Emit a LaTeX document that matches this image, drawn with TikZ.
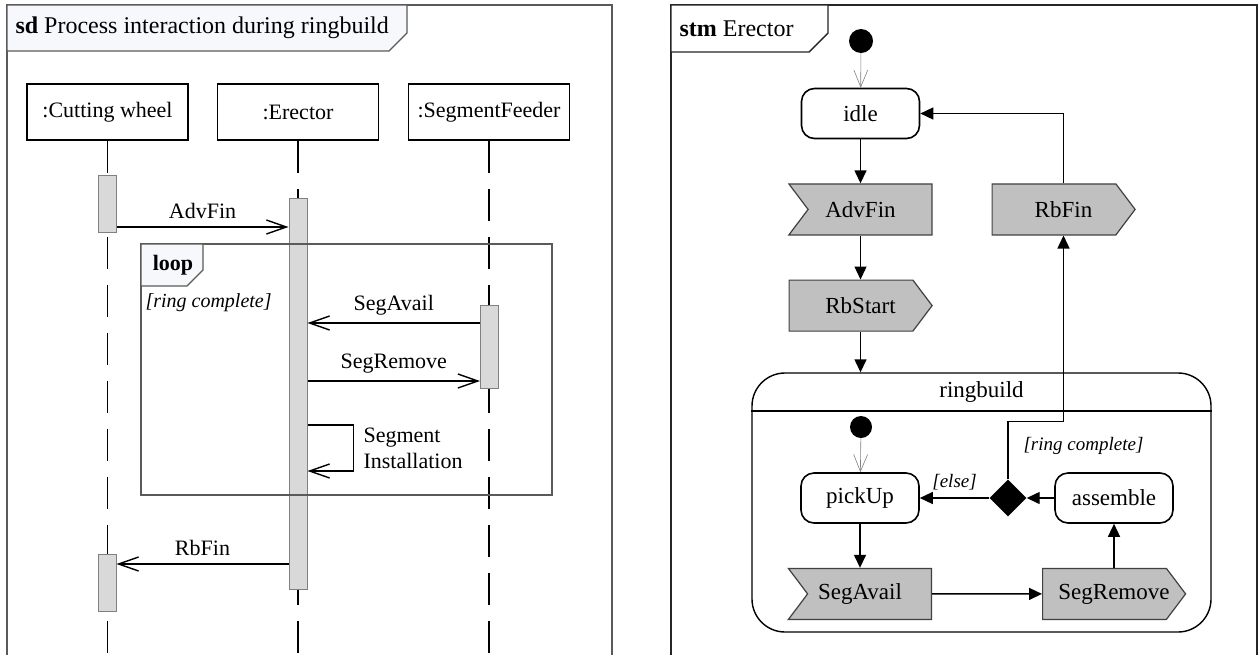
\documentclass[tikz,border=0pt]{standalone}
\usepackage{fontspec}
\setmainfont{Liberation Serif}
\usetikzlibrary{arrows.meta,positioning,shapes.geometric,shapes.symbols}
\definecolor{framegray}{HTML}{5A5A5A}
\definecolor{actgray}{HTML}{D9D9D9}
\definecolor{siggray}{HTML}{C0C0C0}
\definecolor{tabfill}{HTML}{F6F8FC}

\begin{document}
\begin{tikzpicture}[x=1pt, y=-1pt,
    node distance=44pt and 59pt,
    lifehead/.style={draw, line width=1.6pt, minimum width=161pt, minimum height=56pt, font=\fontsize{22}{26}\selectfont},
    lifeline/.style={line width=1.8pt, dash pattern=on 32pt off 16pt},
    actbar/.style={draw=gray, fill=actgray, line width=1pt, minimum width=18pt, inner sep=0pt},
    msg/.style={line width=1.4pt, -{Straight Barb[length=20pt,width=14pt,line width=1.4pt]}},
    msglabel/.style={font=\fontsize{22}{26}\selectfont, above=4pt},
    guard/.style={font=\itshape\fontsize{20}{24}\selectfont},
    smguard/.style={font=\itshape\fontsize{19}{23}\selectfont},
    state/.style={draw, rounded corners=13pt, line width=1.6pt, minimum width=118pt, minimum height=50pt, font=\fontsize{23}{27}\selectfont},
    sigbox/.style={signal, draw=black!75, fill=siggray, line width=1.2pt, minimum width=143pt, minimum height=51pt, signal pointer angle=106, font=\fontsize{23}{27}\selectfont},
    sigin/.style={sigbox, signal to=nowhere, signal from=west, execute at begin node={\hspace*{-19pt}}},
    sigout/.style={sigbox, signal to=east, execute at end node={\hspace*{-19pt}}},
    initial/.style={circle, fill=black, minimum size=24pt, inner sep=0pt},
    choice/.style={diamond, fill=black, minimum size=37pt, inner sep=0pt},
    trans/.style={line width=1.4pt, -{Triangle[length=13pt,width=12pt]}},
    init/.style={draw=gray, line width=0.6pt, -{Straight Barb[length=17pt,width=14pt,line width=0.6pt]}}
]
\useasboundingbox (0,0) rectangle (1260,654);

% sequence diagram
\draw[framegray, line width=1.8pt] (7,660) -- (7,5) -- (612,5) -- (612,660);
\draw[framegray, line width=1.4pt, fill=tabfill] (7,5) -- (407,5) -- (407,33) -- (389,51) -- (7,51) -- cycle;
\node[anchor=west, font=\fontsize{24}{28}\selectfont] (sdtitle) at (12,28) {\textbf{sd} Process interaction during ringbuild};

\node[lifehead] (cw) at (107.5,112) {:Cutting wheel};
\node[lifehead] (er) at (298,112) {:Erector};
\node[lifehead] (sf) at (489,112) {:SegmentFeeder};

\draw[lifeline] (cw.south) -- (cw.south |- 0,660);
\draw[lifeline] (er.south) -- (er.south |- 0,660);
\draw[lifeline] (sf.south) -- (sf.south |- 0,660);

\node[actbar, minimum height=57pt] (cwact1) at (107,203.5) {};
\node[actbar, minimum height=391pt] (eract) at (298,393.5) {};
\node[actbar, minimum height=83pt] (sfact) at (489.5,346.5) {};
\node[actbar, minimum height=57pt] (cwact2) at (107,582.5) {};

% loop fragment
\draw[framegray, line width=1.2pt] (141,244) rectangle (552,495);
\draw[framegray, line width=1.2pt, fill=tabfill] (141,244) -- (203,244) -- (203,270) -- (187,286) -- (141,286) -- cycle;
\node[font=\bfseries\fontsize{22}{26}\selectfont] (looptag) at (173,265) {loop};
\node[guard, anchor=west] (loopguard) at (142,303) {[ring complete]};

\draw[msg] (cwact1.east |- 0,227) -- node[msglabel] {AdvFin} (eract.west |- 0,227);
\draw[msg] (sfact.west |- 0,323) -- node[msglabel] {SegAvail} (eract.east |- 0,323);
\draw[msg] (eract.east |- 0,381) -- node[msglabel] {SegRemove} (sfact.west |- 0,381);
\draw[msg] (eract.east |- 0,425) -- ++(46,0) -- node[right=6pt, align=left, font=\fontsize{22}{26}\selectfont] {Segment\\Installation} ++(0,46) -- (eract.east |- 0,471);
\draw[msg] (eract.west |- 0,564) -- node[msglabel] {RbFin} (cwact2.east |- 0,564);

% state machine
\draw[black!85, line width=1.8pt] (671,660) -- (671,5) -- (1257,5) -- (1257,660);
\draw[black!85, line width=1.4pt, fill=white] (671,5) -- (828,5) -- (828,33) -- (809,52) -- (671,52) -- cycle;
\node[anchor=west, font=\fontsize{24}{28}\selectfont] (stmtitle) at (676,29) {\textbf{stm} Erector};

\node[initial] (i0) at (861,41) {};
\node[state] (idle) at (860.5,113.5) {idle};
\node[sigin, below=of idle, xshift=9.5pt] (advfin) {AdvFin};
\node[sigout, below=of advfin, xshift=-19pt] (rbstart) {RbStart};
\node[sigout, right=of advfin] (rbfin) {RbFin};

\node[draw, rounded corners=33pt, line width=1.4pt, minimum width=459pt, minimum height=259pt] (rb) at (981.5,502.5) {};
\node[font=\fontsize{23}{27}\selectfont] (rbname) at (981.5,392) {ringbuild};
\draw[line width=1.4pt] (rb.west |- 0,411) -- (rb.east |- 0,411);

\node[initial, minimum size=22pt] (i1) at (861,427) {};
\node[state] (pickup) at (860,498) {pickUp};
\node[choice] (dec) at (1008,498) {};
\node[state] (assemble) at (1114,498) {assemble};
\node[sigin, below=of pickup, xshift=9.5pt] (segavail) {SegAvail};
\node[sigout, below=of assemble, xshift=-9.5pt] (segremove) {SegRemove};

\draw[init] (i0) -- (idle);
\draw[trans] (idle) -- (idle |- advfin.north);
\draw[trans] (idle |- advfin.south) -- (idle |- rbstart.north);
\draw[trans] (idle |- rbstart.south) -- (idle |- rb.north);
\draw[trans] ([xshift=9.5pt]rbfin.north) |- (idle.east);
\draw[init] (i1) -- (pickup);
\draw[trans] (pickup) -- (pickup |- segavail.north);
\draw[trans] (segavail) -- (segremove);
\draw[trans] (assemble |- segremove.north) -- (assemble);
\draw[trans] (assemble) -- (dec);
\draw[trans] (dec) -- node[smguard, above=4pt] {[else]} (pickup);
\draw[trans] (dec.north) -- ++(0,-58) -| node[pos=0.5, smguard, below=12pt, xshift=20pt] {[ring complete]} ([xshift=9.5pt]rbfin.south);
\end{tikzpicture}
\end{document}
